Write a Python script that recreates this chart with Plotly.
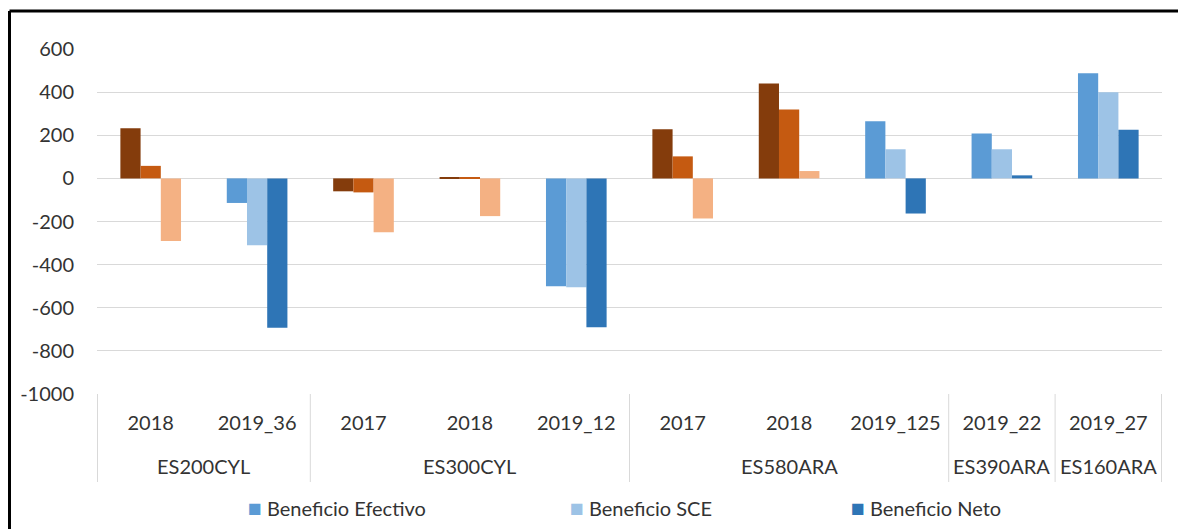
import plotly.graph_objects as go

# categories (outer level = station, inner level = period)
stations = ["ES200CYL", "ES200CYL", "ES300CYL", "ES300CYL", "ES300CYL",
            "ES580ARA", "ES580ARA", "ES580ARA", "ES390ARA", "ES160ARA"]
periods = ["2018", "2019_36", "2017", "2018", "2019_12",
           "2017", "2018", "2019_125", "2019_22", "2019_27"]

beneficio_efectivo = [232, -114, -60, 4, -500, 228, 440, 265, 208, 487]
beneficio_sce = [58, -310, -65, 3, -505, 102, 320, 135, 135, 400]
beneficio_neto = [-290, -693, -250, -175, -690, -186, 34, -163, 14, 226]

y_ticks = [-1000, -800, -600, -400, -200, 0, 200, 400, 600]

series_names = ["Beneficio Efectivo", "Beneficio SCE", "Beneficio Neto"]
blue = ["#5B9BD5", "#9DC3E6", "#2E75B6"]
orange = ["#843C0C", "#C55A11", "#F4B183"]

FONT = "Lato"
TEXT = "#333333"
GRID = "#D9D9D9"

# unique category keys, shown with the period as tick text
keys = [f"{s}|{p}" for s, p in zip(stations, periods)]

fig = go.Figure()
for i, (name, vals) in enumerate(zip(series_names,
                                     [beneficio_efectivo, beneficio_sce, beneficio_neto])):
    # plain years are drawn in the orange palette, "2019_xx" runs in blue
    colors = [blue[i] if p.startswith("2019") else orange[i] for p in periods]
    fig.add_trace(go.Bar(
        x=keys,
        y=vals,
        name=name,
        marker=dict(color=colors, line=dict(width=0)),
        showlegend=False,
    ))

# page has an 8px body margin, so the figure is 8px smaller than the window
W, H = 1178, 521
ML, MR, MT, MB = 89, 24, 41, 135
PW, PH = W - ML - MR, H - MT - MB


def px_x(sx):
    return (sx - 8 - ML) / PW


def px_y(sy):
    return (H - MB - (sy - 8)) / PH


shapes = []
annotations = []

# station row + dividers
groups = []
for idx, s in enumerate(stations):
    if groups and groups[-1][0] == s:
        groups[-1][2] = idx
    else:
        groups.append([s, idx, idx])

div_line = dict(type="line", xref="x", yref="paper", y0=0, y1=px_y(482),
                line=dict(color=GRID, width=1))
shapes.append(dict(div_line, x0=-0.5, x1=-0.5))
for s, a, b in groups:
    shapes.append(dict(div_line, x0=b + 0.5, x1=b + 0.5))
    annotations.append(dict(
        x=(a + b) / 2, y=px_y(466), xref="x", yref="paper",
        xanchor="center", yanchor="middle", showarrow=False,
        text=s, font=dict(family=FONT, size=20, color=TEXT),
    ))

# left/top frame of the original screenshot
frame = dict(type="line", xref="paper", yref="paper",
             line=dict(color="black", width=3))
shapes.append(dict(frame, x0=px_x(9.5), x1=px_x(9.5), y0=px_y(540), y1=px_y(11)))
shapes.append(dict(frame, x0=px_x(9.5), x1=px_x(1200), y0=px_y(11), y1=px_y(11)))

# legend drawn as annotations so the blue swatches show
legend_x = [246, 568, 849]
for name, color, sx in zip(series_names, blue, legend_x):
    annotations.append(dict(
        x=px_x(sx), y=px_y(507), xref="paper", yref="paper",
        xanchor="left", yanchor="middle", showarrow=False,
        text=f"<span style='color:{color};font-size:23px'>■</span> {name}",
        font=dict(family=FONT, size=20, color=TEXT),
    ))

fig.update_layout(
    barmode="group",
    bargap=0.43,
    bargroupgap=0,
    width=W,
    height=H,
    margin=dict(l=ML, r=MR, t=MT, b=MB),
    paper_bgcolor="white",
    plot_bgcolor="white",
    font=dict(family=FONT, size=20, color=TEXT),
    shapes=shapes,
    annotations=annotations,
    xaxis=dict(
        type="category",
        tickvals=keys,
        ticktext=periods,
        showgrid=False,
        showline=False,
        ticks="",
        ticklabelstandoff=15,
        tickfont=dict(family=FONT, size=20, color=TEXT),
    ),
    yaxis=dict(
        range=[-1000, 600],
        tickvals=y_ticks,
        ticktext=[str(v) for v in y_ticks],
        showgrid=True,
        gridcolor=GRID,
        gridwidth=1,
        zeroline=True,
        zerolinecolor=GRID,
        zerolinewidth=1,
        showline=False,
        ticks="",
        ticklabelstandoff=22,
        tickfont=dict(family=FONT, size=20, color=TEXT),
    ),
)

fig.write_html("out.html")
